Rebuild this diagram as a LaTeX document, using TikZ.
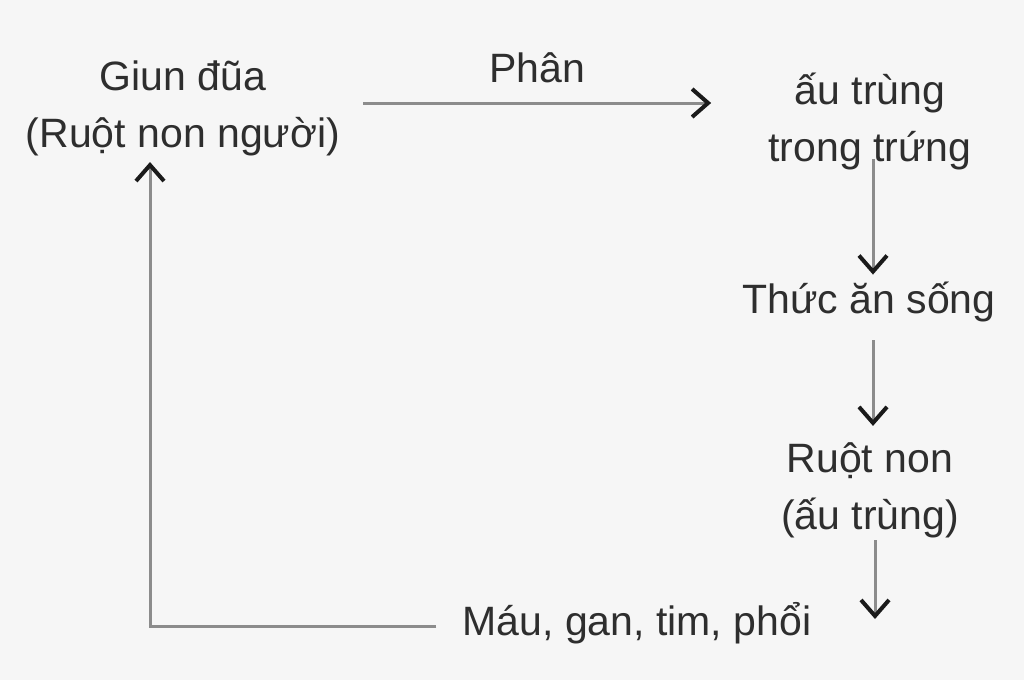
\documentclass[tikz,border=0pt]{standalone}
\usepackage{fontspec}
\setmainfont{Liberation Sans}
\usetikzlibrary{arrows.meta}
\definecolor{bg}{HTML}{F6F6F6}
\definecolor{txt}{HTML}{2E2E2E}
\definecolor{ln}{HTML}{8C8C8C}
\definecolor{tip}{HTML}{1A1A1A}
\begin{document}
\begin{tikzpicture}[x=0.5pt,y=-0.5pt,
  lbl/.style={inner sep=0pt, align=center, text=txt,
    font=\fontsize{20.5pt}{28.5pt}\selectfont},
  arr/.style={draw=ln, line width=1.5pt,
    -{Straight Barb[length=8pt,width=14pt,line width=2pt,color=tip]}}]
\fill[bg] (0,0) rectangle (1024,680);
\useasboundingbox (0,0) rectangle (1024,680);
\node[lbl] (giun) at (183,108) {Giun đũa\\(Ruột non người)};
\node[lbl] (phan) at (537,68) {Phân};
\node[lbl] (au) at (870,121) {ấu trùng\\trong trứng};
\node[lbl] (thuc) at (869,302) {Thức ăn sống};
\node[lbl] (ruot) at (870,490) {Ruột non\\(ấu trùng)};
\node[lbl] (mau) at (637,623) {Máu, gan, tim, phổi};
\draw[arr, shorten <=11.5pt, shorten >=28.5pt] (giun.east |- 0,103) -- (au.west |- 0,103);
\draw[arr, shorten <=-5.5pt, shorten >=3.5pt] ([xshift=1.5pt]au.south) -- ([xshift=1.5pt]au.south |- thuc.north);
\draw[arr, shorten <=9pt, shorten >=8pt] ([xshift=2pt]thuc.south) -- ([xshift=2pt]thuc.south |- ruot.north);
\draw[arr, shorten <=1pt, shorten >=2pt] ([xshift=2.5pt]ruot.south) -- ([xshift=2.5pt]ruot.south |- mau.center);
\draw[arr, shorten <=13pt, shorten >=3pt] ([yshift=-1.5pt]mau.west) -| ([xshift=-16.5pt]giun.south);
\end{tikzpicture}
\end{document}
